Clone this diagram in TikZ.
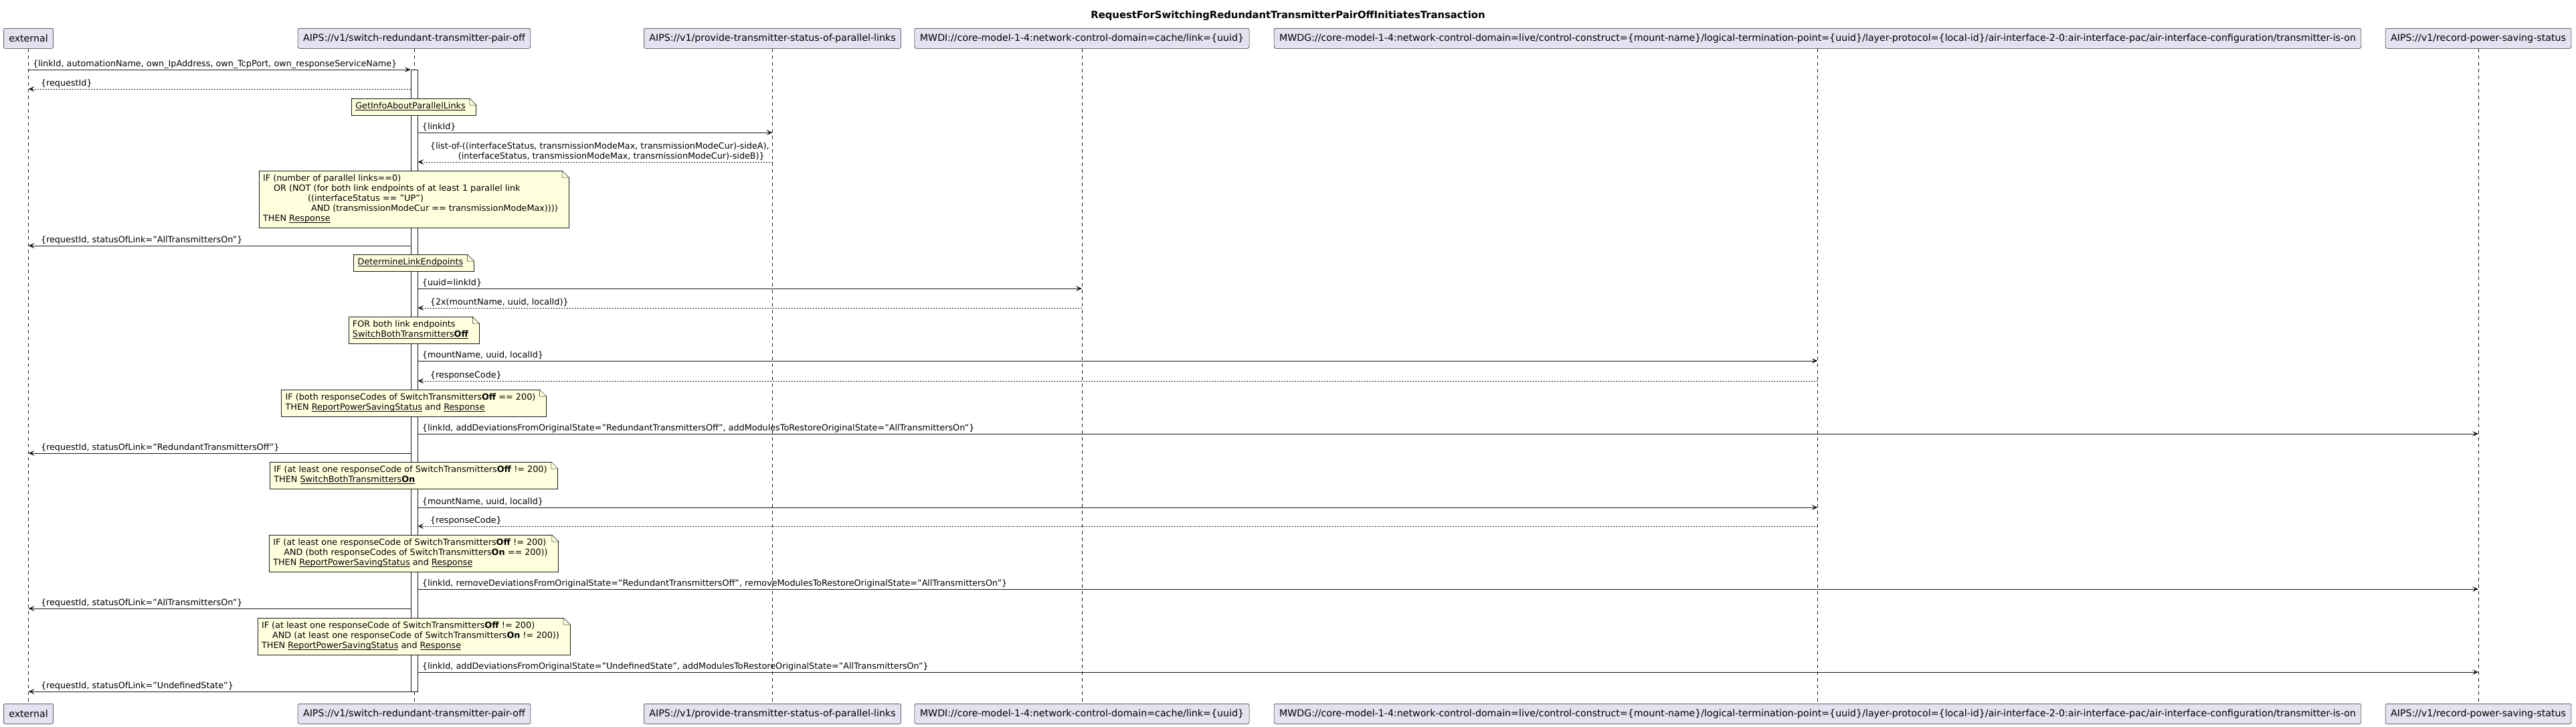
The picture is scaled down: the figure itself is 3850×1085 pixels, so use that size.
\documentclass[tikz,border=0pt]{standalone}
\usepackage{fontspec}
\setmainfont{DejaVu Sans}
\usetikzlibrary{arrows.meta}
\definecolor{partfill}{HTML}{E2E2F0}
\definecolor{ink}{HTML}{181818}
\definecolor{notefill}{HTML}{FEFFDD}
\newcommand\lnk[1]{\setbox0\hbox{#1}\rlap{\rule[-2pt]{\wd0}{0.9pt}}\box0\relax}
\newcommand\ntext[1]{\begin{tabular}{@{}l@{\hspace{10pt}}}#1\end{tabular}}
\newcommand\fold[1]{%
  \fill[white] ([xshift=-10pt]#1.north east) -- ([xshift=-10pt,yshift=1pt]#1.north east) -- ([xshift=1pt,yshift=1pt]#1.north east) -- ([xshift=1pt,yshift=-10pt]#1.north east) -- ([yshift=-10pt]#1.north east) -- cycle;
  \draw[draw=ink, line width=0.5pt, fill=notefill, line join=miter] ([xshift=-10pt]#1.north east) -- ([yshift=-10pt]#1.north east) -- ([xshift=-10pt,yshift=-10pt]#1.north east) -- cycle;}
\begin{document}
\begin{tikzpicture}[x=1pt,y=-1pt,
  part/.style={draw=ink, line width=0.5pt, fill=partfill, rounded corners=2.5pt, minimum height=30pt, inner xsep=8pt, inner ysep=0pt, anchor=north, font=\fontsize{14.2}{16}\selectfont},
  life/.style={draw=ink, line width=0.5pt, dash pattern=on 5pt off 5pt},
  msg/.style={draw=ink, line width=1pt, -{Stealth[length=9pt,width=8pt,inset=4pt]}},
  ret/.style={msg, dash pattern=on 2pt off 2pt},
  lbl/.style={font=\fontsize{12.77}{15}\selectfont, inner sep=0pt, anchor=base west, yshift=5pt},
  rl/.style={lbl, pos=0, xshift=6pt},
  ll/.style={lbl, pos=1, xshift=18pt},
  note/.style={draw=ink, line width=0.5pt, fill=notefill, inner xsep=6pt, inner ysep=5pt, anchor=north, font=\fontsize{12.8}{15}\selectfont},
  ]
\useasboundingbox (0,0) rectangle (3850,1085);

\node[font=\bfseries\fontsize{14.8}{17}\selectfont] (title) at (1925,23) {RequestForSwitchingRedundantTransmitterPairOffInitiatesTransaction};

% participants
\node[part] (pE) at (42.5,42) {external};
\node[part] (pS) at (619,42) {AIPS://v1/switch-redundant-transmitter-pair-off};
\node[part] (pP) at (1154.5,42) {AIPS://v1/provide-transmitter-status-of-parallel-links};
\node[part] (pI) at (1617,42) {MWDI://core-model-1-4:network-control-domain=cache/link=\{uuid\}};
\node[part] (pG) at (2716.5,42) {MWDG://core-model-1-4:network-control-domain=live/control-construct=\{mount-name\}/logical-termination-point=\{uuid\}/layer-protocol=\{local-id\}/air-interface-2-0:air-interface-pac/air-interface-configuration/transmitter-is-on};
\node[part] (pR) at (3704,42) {AIPS://v1/record-power-saving-status};

\node[part] (qE) at (42.5,1051) {external};
\node[part] (qS) at (619,1051) {AIPS://v1/switch-redundant-transmitter-pair-off};
\node[part] (qP) at (1154.5,1051) {AIPS://v1/provide-transmitter-status-of-parallel-links};
\node[part] (qI) at (1617,1051) {MWDI://core-model-1-4:network-control-domain=cache/link=\{uuid\}};
\node[part] (qG) at (2716.5,1051) {MWDG://core-model-1-4:network-control-domain=live/control-construct=\{mount-name\}/logical-termination-point=\{uuid\}/layer-protocol=\{local-id\}/air-interface-2-0:air-interface-pac/air-interface-configuration/transmitter-is-on};
\node[part] (qR) at (3704,1051) {AIPS://v1/record-power-saving-status};

% lifelines
\foreach \a/\b in {pE/qE,pS/qS,pP/qP,pI/qI,pG/qG,pR/qR}
  \draw[life] (\a.south) -- (\b.north);

% activation bar
\node[draw=ink, line width=0.8pt, fill=white, minimum width=10pt, minimum height=929pt, inner sep=0pt, anchor=north] (bar) at (619,104) {};

% messages
\draw[msg] (pE |- 0,104) -- (bar.west |- 0,104) node[rl] {\{linkId, automationName, own\_IpAddress, own\_TcpPort, own\_responseServiceName\}};
\draw[ret] (bar.west |- 0,133) -- (pE |- 0,133) node[ll] {\{requestId\}};
\draw[msg] (bar.east |- 0,198) -- (pP |- 0,198) node[rl] {\{linkId\}};
\draw[ret] (pP |- 0,242) -- (bar.east |- 0,242) node[ll] {\begin{tabular}[b]{@{}l@{}}\{list-of-((interfaceStatus, transmissionModeMax, transmissionModeCur)-sideA),\\ \hspace*{42pt}(interfaceStatus, transmissionModeMax, transmissionModeCur)-sideB)\}\end{tabular}};
\draw[msg] (bar.west |- 0,367) -- (pE |- 0,367) node[ll] {\{requestId, statusOfLink="AllTransmittersOn"\}};
\draw[msg] (bar.east |- 0,431) -- (pI |- 0,431) node[rl] {\{uuid=linkId\}};
\draw[ret] (pI |- 0,460) -- (bar.east |- 0,460) node[ll] {\{2x(mountName, uuid, localId)\}};
\draw[msg] (bar.east |- 0,539) -- (pG |- 0,539) node[rl] {\{mountName, uuid, localId\}};
\draw[ret] (pG |- 0,569) -- (bar.east |- 0,569) node[ll] {\{responseCode\}};
\draw[msg] (bar.east |- 0,648) -- (pR |- 0,648) node[rl] {\{linkId, addDeviationsFromOriginalState="RedundantTransmittersOff", addModulesToRestoreOriginalState="AllTransmittersOn"\}};
\draw[msg] (bar.west |- 0,677) -- (pE |- 0,677) node[ll] {\{requestId, statusOfLink="RedundantTransmittersOff"\}};
\draw[msg] (bar.east |- 0,758) -- (pG |- 0,758) node[rl] {\{mountName, uuid, localId\}};
\draw[ret] (pG |- 0,786) -- (bar.east |- 0,786) node[ll] {\{responseCode\}};
\draw[msg] (bar.east |- 0,880) -- (pR |- 0,880) node[rl] {\{linkId, removeDeviationsFromOriginalState="RedundantTransmittersOff", removeModulesToRestoreOriginalState="AllTransmittersOn"\}};
\draw[msg] (bar.west |- 0,909) -- (pE |- 0,909) node[ll] {\{requestId, statusOfLink="AllTransmittersOn"\}};
\draw[msg] (bar.east |- 0,1004) -- (pR |- 0,1004) node[rl] {\{linkId, addDeviationsFromOriginalState="UndefinedState", addModulesToRestoreOriginalState="AllTransmittersOn"\}};
\draw[msg] (bar.west |- 0,1033) -- (pE |- 0,1033) node[ll] {\{requestId, statusOfLink="UndefinedState"\}};

% notes
\node[note] (n1) at (618.5,147) {\ntext{\lnk{GetInfoAboutParallelLinks}}};
\fold{n1}
\node[note] (n2) at (618.5,255) {\ntext{IF (number of parallel links==0)\\
\hspace*{16pt}OR (NOT (for both link endpoints of at least 1 parallel link\\
\hspace*{67pt}((interfaceStatus == "UP")\\
\hspace*{72pt}AND (transmissionModeCur == transmissionModeMax))))\\
THEN \lnk{Response}}};
\fold{n2}
\node[note] (n3) at (618.5,380) {\ntext{\lnk{DetermineLinkEndpoints}}};
\fold{n3}
\node[note] (n4) at (618.5,473) {\ntext{FOR both link endpoints\\
\lnk{SwitchBothTransmitters\textbf{Off}}}};
\fold{n4}
\node[note] (n5) at (618.5,582) {\ntext{IF (both responseCodes of SwitchTransmitters\textbf{Off} == 200)\\
THEN \lnk{ReportPowerSavingStatus} and \lnk{Response}}};
\fold{n5}
\node[note] (n6) at (618.5,690) {\ntext{IF (at least one responseCode of SwitchTransmitters\textbf{Off} != 200)\\
THEN \lnk{SwitchBothTransmitters\textbf{On}}}};
\fold{n6}
\node[note] (n7) at (618.5,799) {\ntext{IF (at least one responseCode of SwitchTransmitters\textbf{Off} != 200)\\
\hspace*{16pt}AND (both responseCodes of SwitchTransmitters\textbf{On} == 200))\\
THEN \lnk{ReportPowerSavingStatus} and \lnk{Response}}};
\fold{n7}
\node[note] (n8) at (618.5,923) {\ntext{IF (at least one responseCode of SwitchTransmitters\textbf{Off} != 200)\\
\hspace*{16pt}AND (at least one responseCode of SwitchTransmitters\textbf{On} != 200))\\
THEN \lnk{ReportPowerSavingStatus} and \lnk{Response}}};
\fold{n8}
\end{tikzpicture}
\end{document}
